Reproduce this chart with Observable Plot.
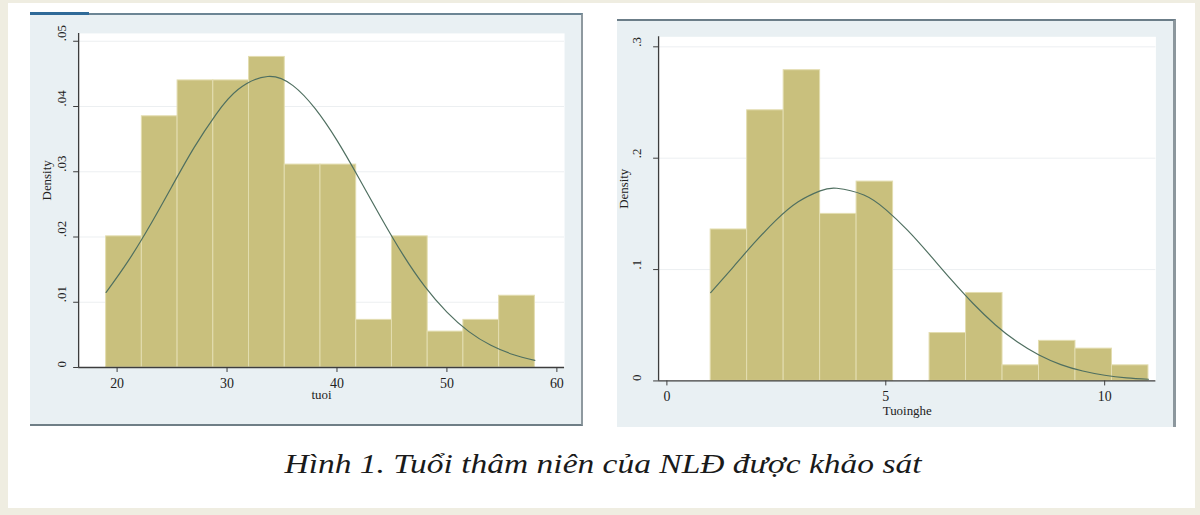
<!DOCTYPE html>
<html>
<head>
<meta charset="utf-8">
<script src="https://cdn.jsdelivr.net/npm/d3@7"></script>
<script src="https://cdn.jsdelivr.net/npm/@observablehq/plot@0.6"></script>
<style>
  html, body { margin: 0; padding: 0; }
  body { width: 1200px; height: 515px; background: #efede1; position: relative; overflow: hidden; font-family: "Liberation Serif", serif; }
  #page { position: absolute; left: 8px; top: 3px; width: 1187px; height: 505px; background: #ffffff; }
  .panel { position: absolute; background: #e9f0f3; }
  #left { left: 30px; top: 13px; width: 553px; height: 413px; border-top: 2px solid #6c8594; border-right: 2px solid #8e999f; border-bottom: 2px solid #6f7e86; box-sizing: border-box; }
  #leftAccent { position: absolute; left: 30px; top: 12px; width: 59px; height: 3px; background: #2f6a98; }
  #right { left: 617px; top: 19px; width: 559px; height: 408px; border-top: 2px solid #6b7d88; border-right: 3px solid #8c979d; box-sizing: border-box; }
  .panel svg { position: absolute; left: -0px; top: -2px; }
  #caption { position: absolute; left: 0; top: 0; }
</style>
</head>
<body>
<div id="page"></div>
<div class="panel" id="left"></div>
<div id="leftAccent"></div>
<div class="panel" id="right"></div>
<svg id="caption" width="1200" height="515"></svg>
<script>
// ---- Chart 1: tuoi (age) ----
const ageEdges = [19, 22.25, 25.5, 28.75, 32, 35.25, 38.5, 41.75, 45, 48.25, 51.5, 54.75, 58];
const ageDensity = [0.0201, 0.0385, 0.0440, 0.0440, 0.0476, 0.0311, 0.0311, 0.0073, 0.0201, 0.0055, 0.0073, 0.0110];
const ageCurveX = [19, 21, 23, 25, 27, 29, 31, 33.7, 36, 38, 40, 42, 44, 46, 48, 50, 52, 54, 56, 58];
const ageCurveY = [0.0115, 0.0163, 0.0218, 0.0278, 0.0337, 0.0388, 0.0426, 0.0446, 0.0432, 0.0397, 0.0348, 0.0290, 0.0230, 0.0173, 0.0124, 0.0085, 0.0055, 0.0034, 0.0020, 0.0011];
const ageXTicks = [20, 30, 40, 50, 60];
const ageYTicks = [0, 0.01, 0.02, 0.03, 0.04, 0.05];
const ageYLabels = ["0", ".01", ".02", ".03", ".04", ".05"];
const ageXDomain = [16.5, 60.7];
const ageYDomain = [0, 0.0512];
const ageXLabel = "tuoi";

// ---- Chart 2: Tuoinghe (tenure) ----
const tenEdges = [1, 1.833, 2.667, 3.5, 4.333, 5.167, 6, 6.833, 7.667, 8.5, 9.333, 10.167, 11];
const tenDensity = [0.136, 0.243, 0.279, 0.150, 0.179, 0, 0.043, 0.079, 0.014, 0.036, 0.029, 0.014];
const tenCurveX = [1, 1.5, 2, 2.5, 3, 3.5, 3.88, 4.5, 5, 5.5, 6, 6.5, 7, 7.5, 8, 8.5, 9, 9.5, 10, 10.5, 11];
const tenCurveY = [0.0793, 0.1016, 0.1241, 0.1446, 0.1609, 0.1707, 0.1730, 0.1669, 0.1538, 0.1352, 0.1134, 0.0907, 0.0693, 0.0505, 0.0351, 0.0233, 0.0147, 0.0089, 0.0051, 0.0028, 0.0015];
const tenXTicks = [0, 5, 10];
const tenYTicks = [0, 0.1, 0.2, 0.3];
const tenYLabels = ["0", ".1", ".2", ".3"];
const tenXDomain = [-0.19, 11.17];
const tenYDomain = [0, 0.309];
const tenXLabel = "Tuoinghe";

const yLabel = "Density";
const captionText = "Hình 1. Tuổi thâm niên của NLĐ được khảo sát";

const barFill = "#c9c07d";
const barStroke = "#e3ddb0";
const curveColor = "#4f6f60";
const axisColor = "#3d3d3d";

function histChart(cfg) {
  const bins = cfg.density.map((d, i) => ({x1: cfg.edges[i], x2: cfg.edges[i + 1], y: d})).filter(d => d.y > 0);
  const curve = cfg.cx.map((x, i) => ({x, y: cfg.cy[i]}));
  return Plot.plot({
    width: cfg.width,
    height: cfg.height,
    marginLeft: cfg.ml, marginRight: cfg.mr, marginTop: cfg.mt, marginBottom: cfg.mb,
    style: {background: "transparent", fontFamily: "Liberation Serif, serif", color: "#222", overflow: "visible"},
    x: {domain: cfg.xDomain},
    y: {domain: cfg.yDomain},
    marks: [
      Plot.frame({fill: "white", stroke: null}),
      Plot.ruleY(cfg.yTicks.filter(t => t > 0), {stroke: "#eceff1", strokeWidth: 1}),
      Plot.rectY(bins, {x1: "x1", x2: "x2", y: "y", fill: barFill, stroke: barStroke, strokeWidth: 1}),
      Plot.line(curve, {x: "x", y: "y", stroke: curveColor, strokeWidth: 1.2, curve: "natural"}),
      Plot.ruleY([cfg.yDomain[0]], {stroke: axisColor, strokeWidth: 1.3}),
      Plot.ruleX([cfg.xDomain[0]], {stroke: axisColor, strokeWidth: 1.3}),
      Plot.axisX({ticks: cfg.xTicks, tickSize: 5, tickPadding: cfg.tp, fontSize: 14, label: null, stroke: axisColor}),
      Plot.axisY({ticks: cfg.yTicks, tickSize: 5, tickFormat: () => "", label: null, stroke: axisColor}),
      Plot.text(cfg.yTicks, {y: d => d, text: (d, i) => cfg.yLabels[i], frameAnchor: "left", dx: cfg.ytdx, rotate: -90, fontSize: 13, fill: "#222"}),
      Plot.text([yLabel], {text: d => d, frameAnchor: "left", dx: cfg.yldx, rotate: -90, fontSize: 13, fill: "#222"}),
      Plot.text([cfg.xLabel], {text: d => d, frameAnchor: "bottom", dy: cfg.xldy, fontSize: 13, fill: "#222"})
    ]
  });
}

const left = histChart({
  edges: ageEdges, density: ageDensity, cx: ageCurveX, cy: ageCurveY,
  xTicks: ageXTicks, yTicks: ageYTicks, yLabels: ageYLabels,
  xDomain: ageXDomain, yDomain: ageYDomain, xLabel: ageXLabel,
  width: 553, height: 413, ml: 48.3, mr: 17, mt: 20, mb: 57.7,
  tp: 6, ytdx: -16.6, yldx: -31.6, xldy: 32
});
document.getElementById("left").appendChild(left);

const right = histChart({
  edges: tenEdges, density: tenDensity, cx: tenCurveX, cy: tenCurveY,
  xTicks: tenXTicks, yTicks: tenYTicks, yLabels: tenYLabels,
  xDomain: tenXDomain, yDomain: tenYDomain, xLabel: tenXLabel,
  width: 559, height: 408, ml: 41.3, mr: 17.7, mt: 17.4, mb: 44.6,
  tp: 5, ytdx: -21.6, yldx: -35, xldy: 34
});
document.getElementById("right").appendChild(right);

// caption
const cap = d3.select("#caption");
cap.append("text")
  .attr("x", 603).attr("y", 473)
  .attr("text-anchor", "middle")
  .attr("font-family", "Liberation Serif, serif")
  .attr("font-style", "italic")
  .attr("font-size", 27)
  .attr("fill", "#1a1a1a")
  .attr("textLength", 637)
  .attr("lengthAdjust", "spacingAndGlyphs")
  .text(captionText);
</script>
</body>
</html>
